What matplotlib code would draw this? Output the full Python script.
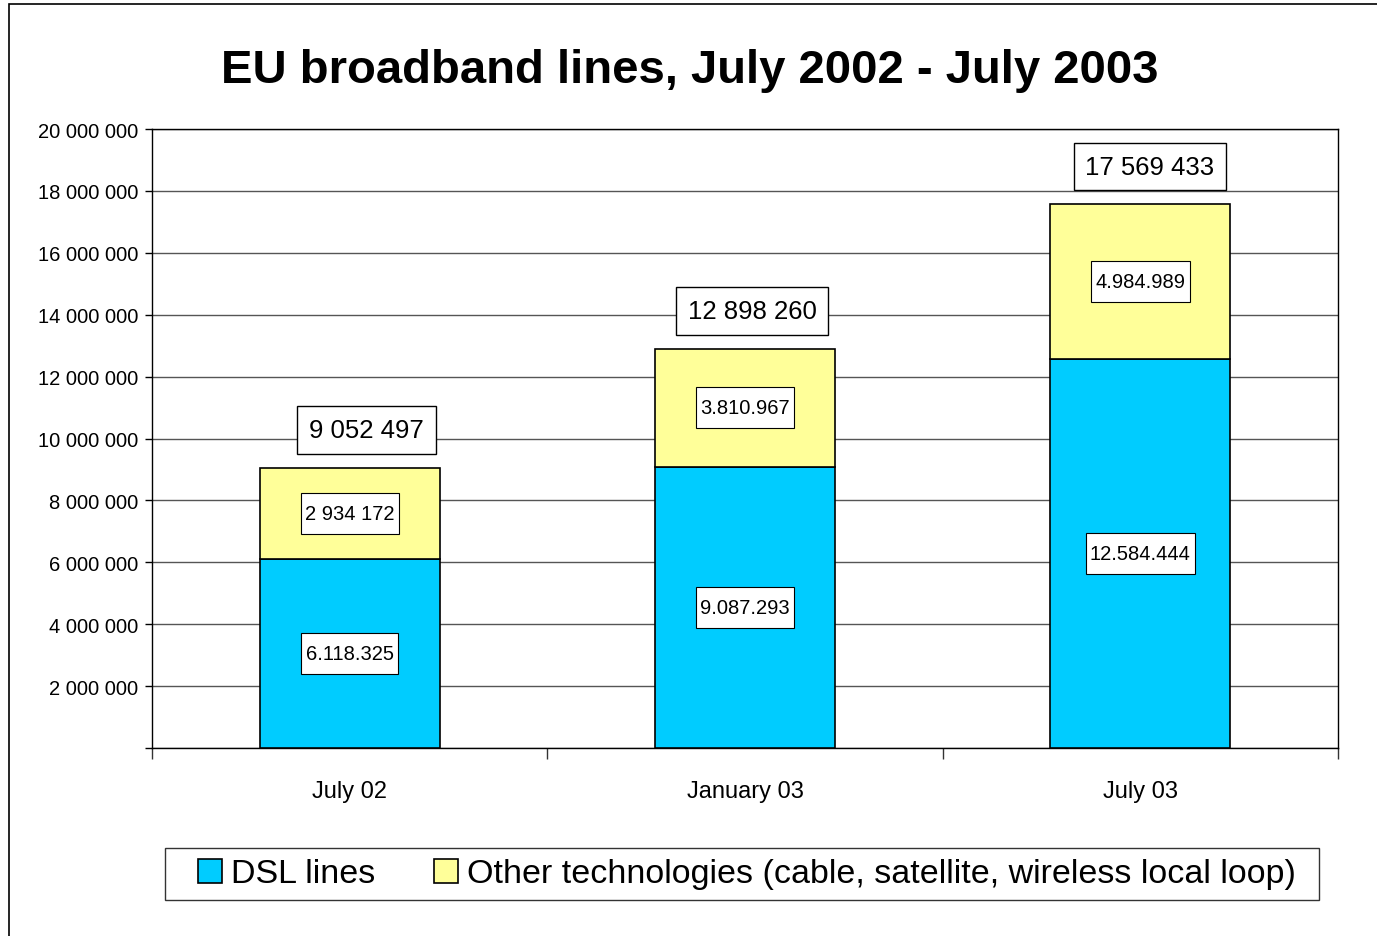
import matplotlib.pyplot as plt
from matplotlib.patches import Rectangle
from matplotlib.ticker import FuncFormatter
from matplotlib.offsetbox import AnnotationBbox, TextArea, VPacker, DrawingArea

plt.rcParams['font.family'] = ['Liberation Sans', 'DejaVu Sans']

categories = ["July 02", "January 03", "July 03"]
dsl_lines = [6118325, 9087293, 12584444]
other_lines = [2934172, 3810967, 4984989]
totals = [9052497, 12898260, 17569433]
# separators used in the segment labels, as printed in the original
dsl_sep = [".", ".", "."]
other_sep = [" ", ".", "."]

DSL_COLOR = "#00CCFF"
OTHER_COLOR = "#FFFF99"


def fmt(v, sep=" "):
    return f"{int(v):,}".replace(",", sep)


def boxed(ax, text, xy, size, hpad, vpad, offset=(0, 0), align=(0.5, 0.5), lw=0.8):
    # text in a white box with separate horizontal / vertical padding
    t = TextArea(text, textprops=dict(fontsize=size))
    kids = [t] if vpad <= 0 else [DrawingArea(1, vpad), t, DrawingArea(1, vpad)]
    pack = VPacker(children=kids, align="center", pad=0, sep=0)
    pack = VPacker(children=[pack], pad=hpad, sep=0)
    ab = AnnotationBbox(pack, xy, xybox=offset, boxcoords="offset points",
                        box_alignment=align, frameon=True, pad=0, zorder=5,
                        bboxprops=dict(facecolor="white", edgecolor="black", linewidth=lw,
                                       boxstyle="square,pad=0"))
    ax.add_artist(ab)


def main():
    fig = plt.figure(figsize=(13.77, 9.37), dpi=100)
    ax = fig.add_axes([152 / 1377, 1 - 749 / 937, (1338 - 152) / 1377, (749 - 130) / 937])

    # figure border (cropped on right / bottom as in the original)
    fig.patches.append(Rectangle((9 / 1377, -0.05), 1.2, 1 - 5 / 937 + 0.05,
                                 transform=fig.transFigure, fill=False,
                                 edgecolor="black", linewidth=1.2))

    x = range(len(categories))
    width = 0.455
    ax.bar(x, dsl_lines, width, color=DSL_COLOR, edgecolor="black", linewidth=1.2,
           label="DSL lines", zorder=3)
    ax.bar(x, other_lines, width, bottom=dsl_lines, color=OTHER_COLOR, edgecolor="black",
           linewidth=1.2, label="Other technologies (cable, satellite, wireless local loop)",
           zorder=3)

    total_dx = [12, 5, 7]
    for i in x:
        boxed(ax, fmt(dsl_lines[i], dsl_sep[i]), (i, dsl_lines[i] / 2), 14.5, 3, 5)
        boxed(ax, fmt(other_lines[i], other_sep[i]), (i, dsl_lines[i] + other_lines[i] / 2),
              14.5, 3, 5)
        boxed(ax, fmt(totals[i]), (i, totals[i]), 18.5, 8.5, 0, offset=(total_dx[i], 10),
              align=(0.5, 0), lw=1.0)

    ax.set_xlim(-0.5, 2.5)
    ax.set_ylim(0, 20000000)
    ax.set_yticks(range(0, 20000001, 2000000))
    ax.yaxis.set_major_formatter(FuncFormatter(lambda v, p: "" if v == 0 else fmt(v)))
    ax.set_xticks([-0.5, 0.5, 1.5, 2.5])
    ax.set_xticklabels([])
    ax.set_xticks(list(x), minor=True)
    ax.set_xticklabels(categories, minor=True, fontsize=17)
    ax.tick_params(axis="x", which="minor", length=0, pad=23)
    ax.tick_params(axis="x", which="major", direction="out", length=8, width=1, color="#333333")
    ax.tick_params(axis="y", direction="out", length=5, width=1, labelsize=14.5, pad=5)

    ax.grid(axis="y", color="#555555", linewidth=1.0, zorder=0)
    for s in ax.spines.values():
        s.set_color("black")
        s.set_linewidth(1.0)

    fig.text(690 / 1377, 1 - 71 / 937, "EU broadband lines, July 2002 - July 2003",
             ha="center", va="center", fontsize=34, fontweight="bold")

    leg = fig.legend(loc="center", bbox_to_anchor=(747 / 1377, 1 - 875 / 937), ncol=2,
                     fontsize=24.5, frameon=False,
                     handlelength=0.7, handleheight=0.7, handletextpad=0.25,
                     columnspacing=1.75, borderpad=0.3, borderaxespad=0)
    for h in leg.legend_handles:
        h.set_linewidth(1.2)

    # legend frame with the wider side margins of the original
    fig.canvas.draw()
    bb = leg.get_window_extent()
    extra_l, extra_r = 23, 13
    fig.patches.append(Rectangle(((bb.x0 - extra_l) / 1377, bb.y0 / 937),
                                 (bb.width + extra_l + extra_r) / 1377, bb.height / 937,
                                 transform=fig.transFigure, fill=False,
                                 edgecolor="#333333", linewidth=1.0))

    fig.savefig("out.png", dpi=100)


if __name__ == "__main__":
    main()
